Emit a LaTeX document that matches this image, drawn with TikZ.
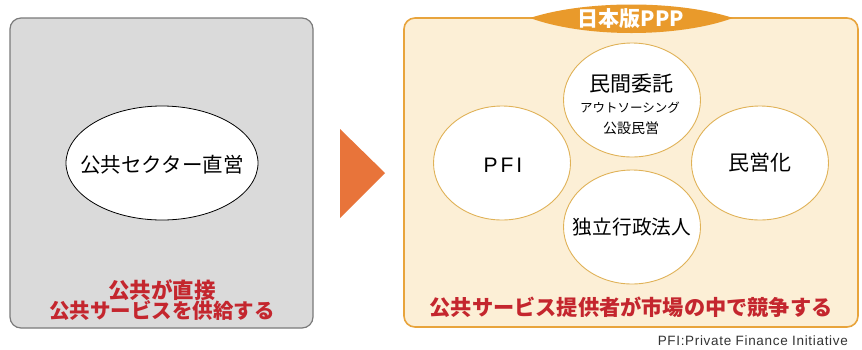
\documentclass[tikz,border=0pt]{standalone}
\usepackage{fontspec}
\setmainfont{Liberation Sans}
\newfontfamily\jp{Noto Sans CJK JP}
\newfontfamily\lat[LetterSpace=5]{Liberation Sans}
\newfontfamily\latwide[LetterSpace=14]{Liberation Sans}
\usetikzlibrary{shapes.geometric}
\definecolor{boxgray}{HTML}{DADADA}
\definecolor{boxedge}{HTML}{7A7A7A}
\definecolor{cream}{HTML}{FCEFD6}
\definecolor{orangeedge}{HTML}{E8A43C}
\definecolor{circedge}{HTML}{E0B257}
\definecolor{tabor}{HTML}{E99A2B}
\definecolor{arrowor}{HTML}{E8743A}
\definecolor{redtxt}{HTML}{C4262E}
\definecolor{foot}{HTML}{333333}
\tikzset{
  oval/.style={ellipse, draw=circedge, line width=0.9pt, fill=white, inner sep=0pt, minimum width=137pt, minimum height=114pt},
  jtxt/.style={font=\jp\fontsize{21}{23}\selectfont, text=black, inner sep=0pt},
  redline/.style={font=\jp\bfseries\fontsize{20.5}{22}\selectfont, text=redtxt, inner sep=0pt},
}
\begin{document}
\begin{tikzpicture}[x=1pt,y=-1pt]
\useasboundingbox (0,0) rectangle (862,349);
\fill[white] (0,0) rectangle (862,349);
% left panel
\draw[fill=boxgray, draw=boxedge, line width=1.2pt, rounded corners=11pt] (10,18) rectangle (313,328);
\node[ellipse, draw=black, line width=0.8pt, fill=white, minimum width=192pt, minimum height=114pt, inner sep=0pt] (ps) at (162,163) {};
\node[jtxt, font=\jp\fontsize{20.5}{22}\selectfont] (pst) at (162,165) {公共セクター直営};
\node[redline, font=\jp\bfseries\fontsize{21.5}{23}\selectfont] (l1) at (162,290) {公共が直接};
\node[redline] (l2) at (162,311) {公共サービスを供給する};
% arrow
\fill[arrowor] (340,129) -- (385,173) -- (340,218) -- cycle;
% right panel
\draw[fill=cream, draw=orangeedge, line width=1.6pt, rounded corners=11pt] (404,18) rectangle (858,327);
\fill[tabor] (530,18) .. controls (585,0) and (678,0) .. (733,18) .. controls (678,38) and (585,38) .. (530,18) -- cycle;
\node[font=\jp\bfseries\fontsize{21}{23}\selectfont, text=white, inner sep=0pt] (tab) at (631,19) {日本版PPP};
\node[oval] (pfi) at (502,163) {};
\node[oval] (min) at (760,163) {};
\node[oval] (dok) at (632,227) {};
\node[oval] (itaku) at (632,100) {};
\node[inner sep=0pt, font=\latwide\fontsize{21}{23}\selectfont] (pfit) at (503,165) {PFI};
\node[jtxt] (mint) at (760,163) {民営化};
\node[jtxt, font=\jp\fontsize{19.7}{22}\selectfont] (dokt) at (632,227) {独立行政法人};
\node[jtxt] (itakut) at (631,84) {民間委託};
\node[jtxt, font=\jp\fontsize{12.5}{14}\selectfont] (out) at (630,108) {アウトソーシング};
\node[jtxt, font=\jp\fontsize{14}{16}\selectfont] (kos) at (631,128) {公設民営};
\node[redline, font=\jp\bfseries\fontsize{21.2}{23}\selectfont] (r1) at (631,307) {公共サービス提供者が市場の中で競争する};
\node[inner sep=0pt, anchor=east, text=foot, font=\lat\fontsize{13.5}{15}\selectfont] (fn) at (848,341) {PFI:Private Finance Initiative};
\end{tikzpicture}
\end{document}
